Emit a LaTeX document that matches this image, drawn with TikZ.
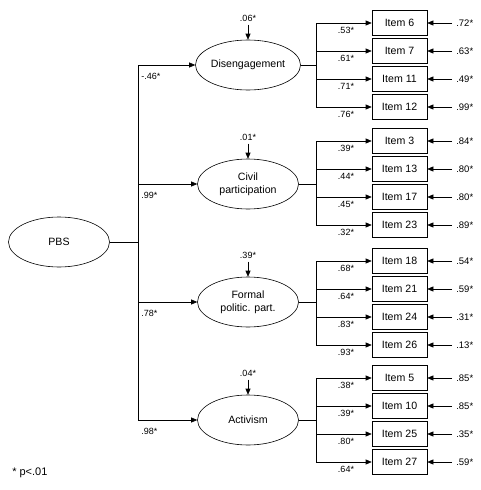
\documentclass[tikz,border=0pt]{standalone}
\usepackage{fontspec}
\setmainfont{Liberation Sans}
\usetikzlibrary{shapes.geometric,arrows.meta}
\begin{document}
\begin{tikzpicture}[x=1pt,y=-1pt,
  lat/.style={draw,ellipse,minimum width=101pt,minimum height=50pt,inner sep=0pt,align=center,font=\fontsize{10.6}{13}\selectfont},
  itembox/.style={draw,rectangle,minimum width=55pt,minimum height=24.5pt,inner sep=0pt,font=\fontsize{10.6}{12}\selectfont},
  lab/.style={font=\fontsize{9}{10}\selectfont,inner sep=0pt},
  elab/.style={font=\fontsize{9.5}{10}\selectfont,inner sep=0pt},
  arr/.style={-{Triangle[length=6pt,width=5pt]}},
  line width=0.6pt]
\useasboundingbox (0,0) rectangle (481,490);
\node[lat] (pbs) at (59,242) {PBS};
\node[lat] (dis) at (248,65) {Disengagement};
\node[lat] (civ) at (248,184) {Civil\\participation};
\node[lat] (frm) at (248,302) {Formal\\politic. part.};
\node[lat] (act) at (248,420) {Activism};
\coordinate (pj) at (138,242);
\draw (pbs.east) -- (pj);
\foreach \lt/\ly/\pl/\nm in {dis/65/-.46/p1, civ/184/.99/p2, frm/302/.78/p3, act/420/.98/p4}{
  \draw[arr] (pj) |- (\lt.west);
  \node[lab,anchor=west] (\nm) at (141,\ly+11) {\pl*};
}
\foreach \lt/\vv/\nm in {dis/.06/v1, civ/.01/v2, frm/.39/v3, act/.04/v4}{
  \node[lab,anchor=south] (\nm) at ([yshift=18pt]\lt.north) {\vv*};
  \draw[arr,shorten <=3pt] (\nm.south) -- (\lt.north);
}
\coordinate (jd) at (dis.east -| 316,0);
\coordinate (jc) at (civ.east -| 316,0);
\coordinate (jf) at (frm.east -| 316,0);
\coordinate (ja) at (act.east -| 316,0);
\draw (dis.east) -- (jd);
\draw (civ.east) -- (jc);
\draw (frm.east) -- (jf);
\draw (act.east) -- (ja);
\foreach \nm/\gj/\num/\yy/\ld/\ev in {
 a/jd/6/23/.53/.72, b/jd/7/51/.61/.63, c/jd/11/79/.71/.49, d/jd/12/107/.76/.99,
 e/jc/3/141/.39/.84, f/jc/13/169/.44/.80, g/jc/17/197/.45/.80, h/jc/23/225/.32/.89,
 i/jf/18/261/.68/.54, j/jf/21/289/.64/.59, k/jf/24/317/.83/.31, l/jf/26/345/.93/.13,
 m/ja/5/378/.38/.85, n/ja/10/406/.39/.85, o/ja/25/434/.80/.35, p/ja/27/462/.64/.59}{
  \node[itembox] (it\nm) at (399.5,\yy) {Item \num};
  \node[elab,anchor=west] (er\nm) at (456,\yy) {\ev*};
  \node[lab] (ld\nm) at (346,\yy+7) {\ld*};
  \draw[arr] (\gj) |- (it\nm.west);
  \draw[arr,shorten <=4pt] (er\nm.west) -- (it\nm.east);
}
\node[anchor=west,inner sep=0pt,font=\fontsize{11}{12}\selectfont] (fn) at (12,473) {* p<.01};
\end{tikzpicture}
\end{document}
